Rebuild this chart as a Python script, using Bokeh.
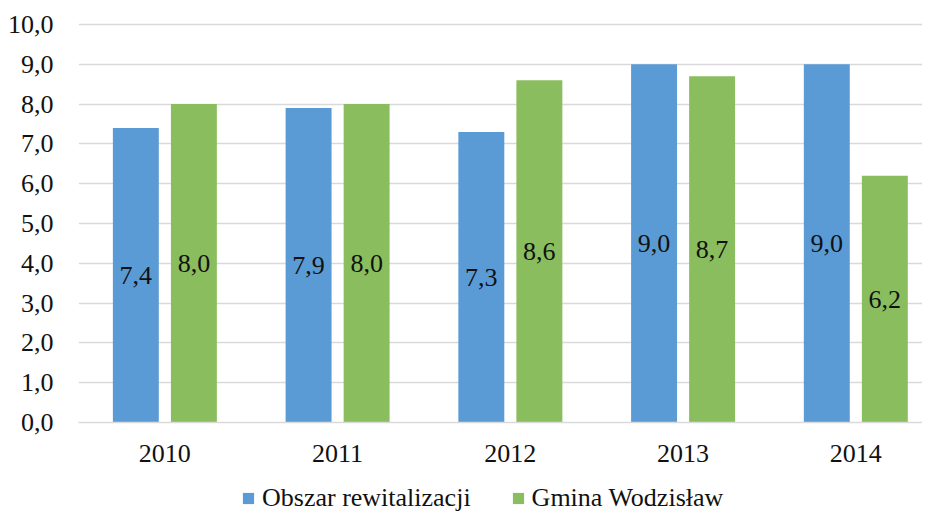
from bokeh.plotting import figure
from bokeh.layouts import column
from bokeh.models import ColumnDataSource, Range1d, FixedTicker, Legend, LegendItem
from bokeh.core.properties import value
from bokeh.embed import file_html
from bokeh.resources import INLINE

years = ["2010", "2011", "2012", "2013", "2014"]
obszar = [7.4, 7.9, 7.3, 9.0, 9.0]
gmina = [8.0, 8.0, 8.6, 8.7, 6.2]
series_names = ["Obszar rewitalizacji", "Gmina Wodzisław"]
y_ticks = [0, 1, 2, 3, 4, 5, 6, 7, 8, 9, 10]

BLUE = "#5B9BD5"
GREEN = "#8ABD5E"
FONT = "Liberation Serif"
TXT = "#111111"

def fmt(v):
    return f"{v:.1f}".replace(".", ",")

xs = list(range(1, len(years) + 1))
off = 0.168
w = 0.266

src_a = ColumnDataSource(dict(x=[x - off for x in xs], top=obszar,
                              mid=[v / 2 for v in obszar], lab=[fmt(v) for v in obszar]))
src_b = ColumnDataSource(dict(x=[x + off for x in xs], top=gmina,
                              mid=[v / 2 for v in gmina], lab=[fmt(v) for v in gmina]))

p = figure(width=922, height=470, output_backend="svg", toolbar_location=None,
           x_range=Range1d(0.5, 5.386), y_range=Range1d(0, 10.126),
           min_border_left=78, min_border_right=0, min_border_top=19, min_border_bottom=48)
p.outline_line_color = None
p.background_fill_color = "white"
p.border_fill_color = "white"

p.vbar(x="x", top="top", width=w, source=src_a, fill_color=BLUE, line_color=None)
p.vbar(x="x", top="top", width=w, source=src_b, fill_color=GREEN, line_color=None)

for s in (src_a, src_b):
    p.text(x="x", y="mid", text="lab", source=s, text_align="center", text_baseline="middle",
           text_font=value(FONT), text_font_size="26px", text_color=TXT)

p.xgrid.grid_line_color = None
p.ygrid.grid_line_color = "#D9D9D9"
p.ygrid.grid_line_width = 1.5
p.yaxis.ticker = FixedTicker(ticks=y_ticks)
p.yaxis.major_label_overrides = {t: fmt(t) for t in y_ticks}
p.yaxis.axis_line_color = None
p.yaxis.major_tick_line_color = None
p.yaxis.minor_tick_line_color = None
p.yaxis.major_label_standoff = 19

p.xaxis.ticker = FixedTicker(ticks=xs)
p.xaxis.major_label_overrides = {x: y for x, y in zip(xs, years)}
p.xaxis.axis_line_color = "#D9D9D9"
p.xaxis.axis_line_width = 1.5
p.xaxis.major_tick_line_color = None
p.xaxis.minor_tick_line_color = None
p.xaxis.major_label_standoff = 16

for ax in (p.xaxis, p.yaxis):
    ax.major_label_text_font = FONT
    ax.major_label_text_font_size = "26px"
    ax.major_label_text_color = TXT

# legend strip (dummy renderers lie outside the visible range; only their legend swatches show)
p2 = figure(width=922, height=43, output_backend="svg", toolbar_location=None,
            x_range=Range1d(0, 1), y_range=Range1d(0, 1),
            x_axis_location=None, y_axis_location=None,
            min_border_left=0, min_border_right=0, min_border_top=0, min_border_bottom=0)
p2.grid.visible = False
p2.outline_line_color = None
la = p2.vbar(x=[5], top=[5], bottom=[4], width=0.1, fill_color=BLUE, line_color=None)
lb = p2.vbar(x=[5], top=[5], bottom=[4], width=0.1, fill_color=GREEN, line_color=None)
legend = Legend(items=[LegendItem(label=series_names[0], renderers=[la]),
                       LegendItem(label=series_names[1], renderers=[lb])],
                orientation="horizontal", location=(163, 0),
                glyph_width=14, glyph_height=14, label_standoff=7, spacing=40,
                padding=0, margin=0, border_line_color=None, background_fill_alpha=0,
                label_text_font=FONT, label_text_font_size="26px", label_text_color=TXT)
p2.add_layout(legend, "center")

open("out.html", "w").write(file_html(column(p, p2, spacing=0), INLINE))
